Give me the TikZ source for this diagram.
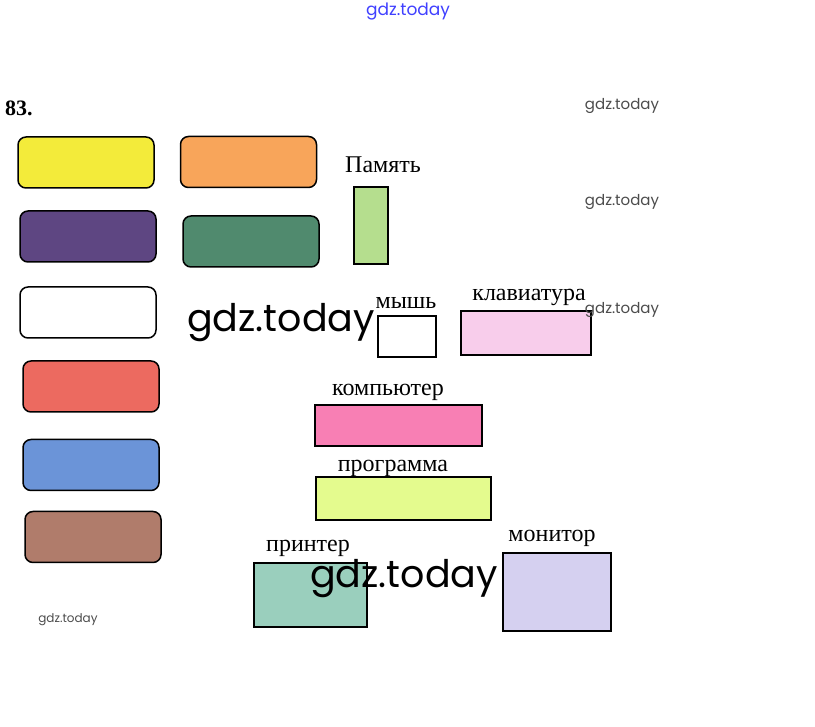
\documentclass[tikz,border=0pt]{standalone}
\usepackage{fontspec}
\setmainfont{Liberation Serif}
\newfontfamily\wmfont{Poppins}
\usetikzlibrary{positioning}
\definecolor{cyellow}{HTML}{F3EB3A}
\definecolor{corange}{HTML}{F8A55A}
\definecolor{cpurple}{HTML}{5E4682}
\definecolor{cgreen}{HTML}{508A6E}
\definecolor{cred}{HTML}{EC6A60}
\definecolor{cblue}{HTML}{6B94D8}
\definecolor{cbrown}{HTML}{B07C6B}
\definecolor{cmem}{HTML}{B5DE8E}
\definecolor{ckbd}{HTML}{F8CDEB}
\definecolor{ccomp}{HTML}{F87FB4}
\definecolor{cprog}{HTML}{E4FB8E}
\definecolor{cprn}{HTML}{9ACFBD}
\definecolor{cmon}{HTML}{D5D0F0}
\tikzset{
        card/.style={draw=black, line width=1.5pt, rounded corners=8pt, inner sep=0pt,
          minimum width=136pt, minimum height=51pt},
        block/.style={draw=black, line width=1.5pt, inner sep=0pt},
        caption/.style={anchor=base, inner sep=0pt, font=\fontsize{24}{26}\selectfont},
        wmark/.style={inner sep=0pt, font=\wmfont\fontsize{15}{16}\selectfont, text=black!70}
          }
\begin{document}
\begin{tikzpicture}[x=1pt, y=-1pt]
        \useasboundingbox[fill=white] (0,0) rectangle (815,727);
        \node[anchor=base west, inner sep=0pt, font=\bfseries\fontsize{22}{23}\selectfont] (num) at (5,116) {83.};
        % colour cards
        \node[card, fill=cyellow] (c1) at (86,162.5) {};
        \node[card, fill=corange] (c2) at (248.5,162) {};
        \node[card, fill=cpurple] (c3) at (88,236.5) {};
        \node[card, fill=cgreen] (c4) at (251,241.5) {};
        \node[card, fill=white] (c5) at (88,312.5) {};
        \node[card, fill=cred] (c6) at (91,386.5) {};
        \node[card, fill=cblue] (c7) at (91,465) {};
        \node[card, fill=cbrown] (c8) at (93,537) {};
        % parts
        \node[block, fill=cmem, minimum width=34pt, minimum height=77pt] (mem) at (371,225.5) {};
        \node[block, fill=white, minimum width=58pt, minimum height=41pt] (mouse) at (407,336.5) {};
        \node[block, fill=ckbd, minimum width=130pt, minimum height=44pt] (kbd) at (526,333) {};
        \node[block, fill=ccomp, minimum width=167pt, minimum height=41pt] (comp) at (398.5,425.5) {};
        \node[block, fill=cprog, minimum width=175pt, minimum height=43pt] (prog) at (403.5,498.5) {};
        \node[block, fill=cprn, minimum width=113pt, minimum height=64pt] (prn) at (310.5,595) {};
        \node[block, fill=cmon, minimum width=108pt, minimum height=78pt] (mon) at (557,592) {};
        % captions
        \node[caption] (lmem) at (383,173) {Память};
        \node[caption] (lmouse) at (406,309) {мышь};
        \node[caption] (lkbd) at (529,301) {клавиатура};
        \node[caption] (lcomp) at (388,396) {компьютер};
        \node[caption] (lprog) at (393,472) {программа};
        \node[caption] (lprn) at (308,552) {принтер};
        \node[caption] (lmon) at (552,542) {монитор};
        % watermarks
        \node[wmark, text=blue!75, font=\wmfont\fontsize{17}{18}\selectfont] (w1) at (408,12) {gdz.today};
        \node[wmark] (w2) at (622,106) {gdz.today};
        \node[wmark] (w3) at (622,202) {gdz.today};
        \node[wmark] (w4) at (622,310) {gdz.today};
        \node[wmark, font=\wmfont\fontsize{12}{13}\selectfont] (w5) at (68,620) {gdz.today};
        \node[wmark, text=black, font=\wmfont\fontsize{38}{40}\selectfont] (w6) at (281,323) {gdz.today};
        \node[wmark, text=black, font=\wmfont\fontsize{38}{40}\selectfont] (w7) at (404,579) {gdz.today};
      \end{tikzpicture}
\end{document}
